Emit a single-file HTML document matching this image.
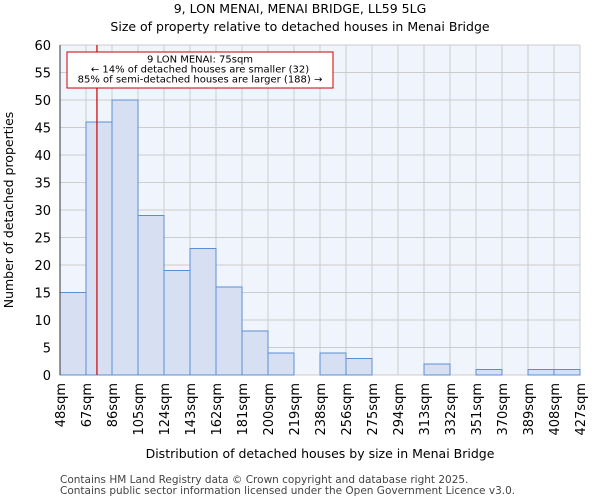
<!DOCTYPE html>
<html><head><meta charset="utf-8"><style>
body{margin:0;background:#fff;font-family:"DejaVu Sans","Liberation Sans",sans-serif}
</style></head><body>
<svg id="chart" width="600" height="500" xmlns="http://www.w3.org/2000/svg" font-family="DejaVu Sans, Liberation Sans, sans-serif">
<text x="300" y="13" text-anchor="middle" font-size="12.5">9, LON MENAI, MENAI BRIDGE, LL59 5LG</text>
<text x="300" y="31" text-anchor="middle" font-size="12.5">Size of property relative to detached houses in Menai Bridge</text>
<rect x="60" y="45" width="520" height="330" fill="#f0f4fc"/>
<g id="grid"></g><g id="bars"></g><g id="axes"></g>
<text x="320" y="458" text-anchor="middle" font-size="12.5">Distribution of detached houses by size in Menai Bridge</text>
<text transform="translate(13,210) rotate(-90)" text-anchor="middle" font-size="12.5">Number of detached properties</text>
<text x="60" y="483" font-size="10.5" fill="#444">Contains HM Land Registry data © Crown copyright and database right 2025.</text>
<text x="60" y="494" font-size="10.5" fill="#444">Contains public sector information licensed under the Open Government Licence v3.0.</text>
</svg>
<script>
const binLabels=["48sqm","67sqm","86sqm","105sqm","124sqm","143sqm","162sqm","181sqm","200sqm","219sqm","238sqm","256sqm","275sqm","294sqm","313sqm","332sqm","351sqm","370sqm","389sqm","408sqm","427sqm"];
const counts=[15,46,50,29,19,23,16,8,4,0,4,3,0,0,2,0,1,0,1,1];
const yTicks=[0,5,10,15,20,25,30,35,40,45,50,55,60];
const propertySize=75;
const binStart=48, binWidth=19;
const X0=60,W=520,Y0=375,H=330,yMax=60;
const nb=counts.length;
const x=i=>X0+i*W/nb;
const xv=v=>X0+(v-binStart)/binWidth*W/nb;
const y=v=>Y0-v/yMax*H;
const ns="http://www.w3.org/2000/svg";
function mk(tag,attrs,parent,txt){const e=document.createElementNS(ns,tag);for(const k in attrs)e.setAttribute(k,attrs[k]);if(txt!==undefined)e.textContent=txt;document.getElementById(parent).appendChild(e);return e;}
yTicks.forEach(t=>{
 const g=mk('line',{x1:X0,x2:X0+W,y1:y(t),y2:y(t),stroke:'#ccc','stroke-width':1},'grid');
 
 
 const l=mk('text',{x:X0-9,y:y(t)+5,'text-anchor':'end','font-size':13},'axes',t);
 
 
});
binLabels.forEach((s,i)=>{
 const g=mk('line',{x1:x(i),x2:x(i),y1:Y0-H,y2:Y0,stroke:'#ccc','stroke-width':1},'grid');
 
 
 const l=mk('text',{transform:`translate(${x(i)+5},${Y0+8}) rotate(-90)`,'text-anchor':'end','font-size':13},'axes',s);
 
 
});
counts.forEach((c,i)=>{
 if(c<=0)return;
 const b=mk('rect',{x:x(i),y:y(c),width:W/nb,height:y(0)-y(c),fill:'#d6e0f2',stroke:'#5b8fd4','stroke-width':1},'bars');
 
 
});
const ax=mk('line',{x1:X0,x2:X0,y1:Y0-H,y2:Y0,stroke:'#333'},'axes');


const px=xv(propertySize);
const ml=mk('line',{x1:px,x2:px,y1:Y0-H,y2:Y0,stroke:'#c00','stroke-width':1.2},'axes');


const box=mk('rect',{x:67,y:52,width:266,height:36,fill:'#fff',stroke:'#c00','stroke-width':1},'axes');


["9 LON MENAI: 75sqm","← 14% of detached houses are smaller (32)","85% of semi-detached houses are larger (188) →"].forEach((t,i)=>{
 const a=mk('text',{x:200,y:62.5+i*10,'text-anchor':'middle','font-size':10},'axes',t);
 
 
});
</script>
</body></html>
